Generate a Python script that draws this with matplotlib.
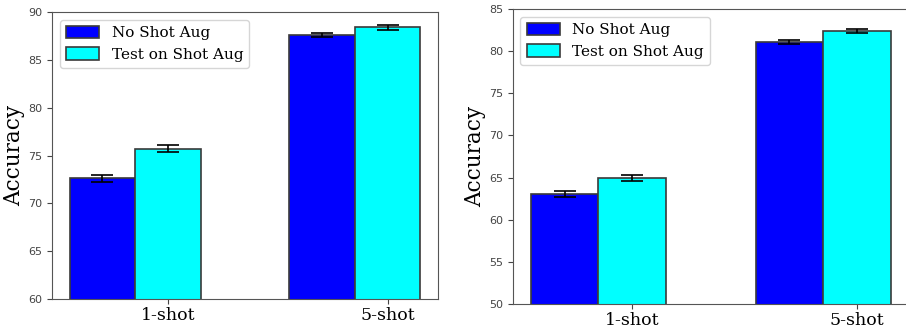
import numpy as np
import matplotlib
matplotlib.use("Agg")
import matplotlib.pyplot as plt

categories = ["1-shot", "5-shot"]
series_names = ["No Shot Aug", "Test on Shot Aug"]

left_no_aug = [72.6, 87.6]
left_no_aug_err = [0.35, 0.25]
left_aug = [75.7, 88.4]
left_aug_err = [0.35, 0.25]

right_no_aug = [63.0, 81.1]
right_no_aug_err = [0.35, 0.25]
right_aug = [65.0, 82.4]
right_aug_err = [0.35, 0.2]

left_ylim = (60, 90)
right_ylim = (50, 85)

fig = plt.figure(figsize=(9.06, 3.31), dpi=100)
ax1 = fig.add_axes([0.0574, 0.0967, 0.426, 0.867])
ax2 = fig.add_axes([0.566, 0.0816, 0.437, 0.891])

width = 0.3
x = np.arange(len(categories))

def draw(ax, a, ae, b, be, ylim):
    kw = dict(edgecolor="#3a3a3a", linewidth=1.2, capsize=8,
              error_kw=dict(ecolor="black", elinewidth=1.2, capthick=1.2))
    ax.bar(x, a, width, yerr=ae, color="blue", label=series_names[0], **kw)
    ax.bar(x + width, b, width, yerr=be, color="cyan", label=series_names[1], **kw)
    ax.set_ylim(*ylim)
    ax.set_xticks(x + width)
    ax.set_xticklabels(categories, family="DejaVu Serif", fontsize=12.5)
    ax.tick_params(axis="y", labelsize=8, labelcolor="#444444", color="#444444")
    ax.tick_params(axis="x", color="#444444", pad=2)
    ax.set_ylabel("Accuracy", family="DejaVu Serif", fontsize=15.5, labelpad=2)
    for s in ax.spines.values():
        s.set_color("#555555")
    ax.legend(loc="upper left", prop=dict(family="DejaVu Serif", size=11),
              handlelength=2.2, handleheight=0.9, labelspacing=0.45)

draw(ax1, left_no_aug, left_no_aug_err, left_aug, left_aug_err, left_ylim)
draw(ax2, right_no_aug, right_no_aug_err, right_aug, right_aug_err, right_ylim)

fig.savefig("out.png", dpi=100)
